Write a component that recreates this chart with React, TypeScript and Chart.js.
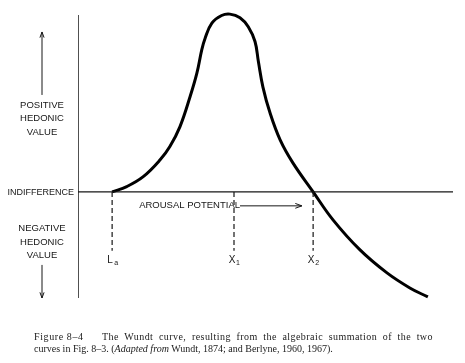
import React, { useEffect, useRef } from "react";
import { Chart, registerables } from "chart.js";

Chart.register(...registerables);

// Wundt curve (arousal potential vs hedonic value)
const curveX = [9.1, 13.0, 17.4, 21.9, 24.5, 27.2, 29.9, 31.7, 33.0, 33.9, 35.7, 38.3, 40.5, 43.2, 45.4, 47.2, 48.1, 49.3, 51.2, 53.9, 57.3, 62.7, 68.0, 75.2, 82.4, 88.5, 93.3];
const curveY = [0, 0.3, 0.86, 1.81, 2.56, 3.69, 5.39, 6.71, 8.03, 8.69, 9.54, 9.97, 10.05, 9.85, 9.34, 8.5, 7.37, 5.94, 4.47, 2.94, 1.64, 0, -1.58, -3.28, -4.58, -5.43, -5.94];

// Marked points on the arousal axis
const markerX = [9.1, 41.6, 62.7];
const markerMain = ["L", "X", "X"];
const markerSub = ["a", "1", "2"];
const markerBottom = -3.33;

// Axis extents
const xMin = 0;
const xMax = 100;
const yMin = -6;
const yMax = 10;

// Text
const positiveLines = ["POSITIVE", "HEDONIC", "VALUE"];
const negativeLines = ["NEGATIVE", "HEDONIC", "VALUE"];
const indifferenceLabel = "INDIFFERENCE";
const arousalLabel = "AROUSAL POTENTIAL";
const arousalArrowFrom = 43.2;
const arousalArrowTo = 59.7;
const arousalY = -0.79;
const positiveCenterY = 4.13;
const negativeCenterY = -2.83;
const upArrowFrom = 5.48;
const upArrowTo = 9.04;
const downArrowFrom = -4.13;
const downArrowTo = -6.0;

const SANS = "'Liberation Sans', Arial, sans-serif";
const INK = "#161616";

const annotPlugin = {
  id: "annot",
  afterDatasetsDraw(chart: any) {
    const { ctx, chartArea, scales } = chart;
    const xs = scales.x;
    const ys = scales.y;
    ctx.save();
    ctx.fillStyle = INK;
    ctx.strokeStyle = INK;
    ctx.textAlign = "center";
    ctx.textBaseline = "middle";
    const cx = chartArea.left - 36;

    ctx.font = `9.5px ${SANS}`;
    const pc = ys.getPixelForValue(positiveCenterY);
    positiveLines.forEach((t, i) => ctx.fillText(t, cx, pc + (i - 1) * 13.5));
    const nc = ys.getPixelForValue(negativeCenterY);
    negativeLines.forEach((t, i) => ctx.fillText(t, cx, nc + (i - 1) * 13.5));

    ctx.font = `9px ${SANS}`;
    ctx.textAlign = "right";
    ctx.fillText(indifferenceLabel, chartArea.left - 4, ys.getPixelForValue(0) + 1);

    ctx.lineWidth = 1;
    const drawArrow = (x1: number, y1: number, x2: number, y2: number, head: number) => {
      ctx.beginPath();
      ctx.moveTo(x1, y1);
      ctx.lineTo(x2, y2);
      ctx.stroke();
      const ang = Math.atan2(y2 - y1, x2 - x1);
      ctx.beginPath();
      ctx.moveTo(x2 - head * Math.cos(ang - 0.35), y2 - head * Math.sin(ang - 0.35));
      ctx.lineTo(x2, y2);
      ctx.lineTo(x2 - head * Math.cos(ang + 0.35), y2 - head * Math.sin(ang + 0.35));
      ctx.stroke();
    };
    drawArrow(cx, ys.getPixelForValue(upArrowFrom), cx, ys.getPixelForValue(upArrowTo), 6);
    drawArrow(cx, ys.getPixelForValue(downArrowFrom), cx, ys.getPixelForValue(downArrowTo), 6);

    ctx.font = `9.5px ${SANS}`;
    ctx.textAlign = "right";
    const ay = ys.getPixelForValue(arousalY);
    ctx.fillText(arousalLabel, xs.getPixelForValue(arousalArrowFrom), ay);
    drawArrow(xs.getPixelForValue(arousalArrowFrom), ay, xs.getPixelForValue(arousalArrowTo), ay, 7);

    const ly = ys.getPixelForValue(markerBottom) + 9;
    markerX.forEach((mx, i) => {
      const px = xs.getPixelForValue(mx);
      ctx.textAlign = "center";
      ctx.font = `10px ${SANS}`;
      ctx.fillText(markerMain[i], px - 2, ly);
      ctx.font = `7px ${SANS}`;
      ctx.textAlign = "left";
      ctx.fillText(markerSub[i], px + 2, ly + 3);
    });
    ctx.restore();
  },
};

export default function App() {
  const ref = useRef<HTMLCanvasElement | null>(null);
  useEffect(() => {
    document.body.style.margin = "0";
    if (!ref.current) return;
    const curve = curveX.map((x, i) => ({ x, y: curveY[i] }));
    const markerSets = markerX.map((mx) => ({
      data: [
        { x: mx, y: 0 },
        { x: mx, y: markerBottom },
      ],
      borderColor: INK,
      borderWidth: 1.2,
      borderDash: [5, 3],
      pointRadius: 0,
      tension: 0,
    }));
    const chart = new Chart(ref.current, {
      type: "line",
      data: {
        datasets: [
          {
            data: [
              { x: xMin, y: yMin },
              { x: xMin, y: yMax },
            ],
            borderColor: INK,
            borderWidth: 1.5,
            pointRadius: 0,
            tension: 0,
          },
          {
            data: [
              { x: xMin - 1, y: 0 },
              { x: xMax, y: 0 },
            ],
            borderColor: INK,
            borderWidth: 1.4,
            pointRadius: 0,
            tension: 0,
          },
          ...markerSets,
          {
            data: curve,
            borderColor: "#000",
            borderWidth: 3,
            pointRadius: 0,
            tension: 0.4,
            clip: false,
          } as any,
        ],
      },
      options: {
        responsive: false,
        animation: false,
        layout: { padding: { left: 78, right: 12, top: 15, bottom: 65 } },
        plugins: { legend: { display: false }, tooltip: { enabled: false }, title: { display: false } },
        scales: {
          x: { type: "linear", min: xMin, max: xMax, display: false },
          y: { type: "linear", min: yMin, max: yMax, display: false },
        },
      } as any,
      plugins: [annotPlugin],
    } as any);
    return () => chart.destroy();
  }, []);

  const capStyle: React.CSSProperties = {
    position: "absolute",
    fontFamily: "'Liberation Serif', 'Times New Roman', serif",
    fontSize: "10px",
    color: "#1a1a1a",
    whiteSpace: "nowrap",
    lineHeight: "12px",
  };

  return (
    <div style={{ position: "relative", width: 465, height: 363, background: "#fff" }}>
      <canvas ref={ref} width={465} height={363} style={{ position: "absolute", left: 0, top: 0 }} />
      <div style={{ ...capStyle, left: 34, top: 331, letterSpacing: "0.6px" }}>Figure 8–4</div>
      <div style={{ ...capStyle, left: 102, top: 331, width: 331, letterSpacing: "0.45px", textAlign: "justify", textAlignLast: "justify", whiteSpace: "normal" }}>
        The Wundt curve, resulting from the algebraic summation of the two
      </div>
      <div style={{ ...capStyle, left: 34, top: 343 }}>
        curves in Fig. 8–3. (<i>Adapted from</i> Wundt, 1874; and Berlyne, 1960, 1967).
      </div>
    </div>
  );
}
